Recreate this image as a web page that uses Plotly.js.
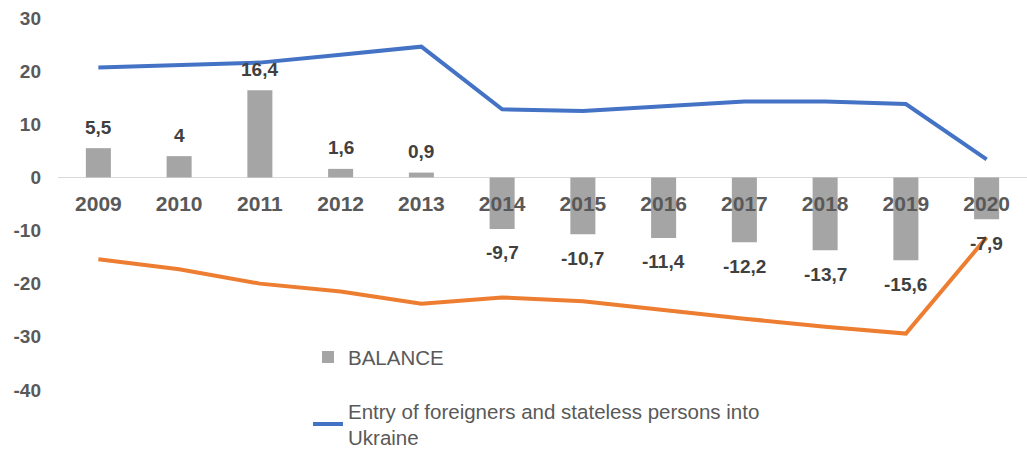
<!DOCTYPE html>
<html>
<head>
<meta charset="utf-8">
<script src="https://cdn.plot.ly/plotly-3.0.1.min.js"></script>
<style>html,body{margin:0;padding:0;background:#fff;}#chart{width:1027px;height:450px;}</style>
</head>
<body>
<div id="chart"></div>
<script>
const years = ["2009","2010","2011","2012","2013","2014","2015","2016","2017","2018","2019","2020"];
const balance = [5.5, 4, 16.4, 1.6, 0.9, -9.7, -10.7, -11.4, -12.2, -13.7, -15.6, -7.9];
const entry = [20.7, 21.1, 21.6, 23.1, 24.6, 12.8, 12.5, 13.4, 14.3, 14.3, 13.8, 3.4];
const exit = [-15.4, -17.3, -20.0, -21.5, -23.8, -22.6, -23.3, -25.0, -26.6, -28.1, -29.4, -11.3];
const yTicks = [-40, -30, -20, -10, 0, 10, 20, 30];

const traces = [
  {type:'bar', x: years, y: balance, name: 'BALANCE', marker:{color:'#a5a5a5'}, legendgroup:'a', hoverinfo:'none'},
  {type:'scatter', mode:'lines', x: years, y: entry, name: 'Entry of foreigners and stateless persons into<br>Ukraine',
   line:{color:'#4472c4', width:4}, legendgroup:'b', hoverinfo:'none'},
  {type:'scatter', mode:'lines', x: years, y: exit, name: 'Exit of foreigners and stateless persons from Ukraine',
   line:{color:'#ed7d31', width:4}, showlegend:false, hoverinfo:'none'}
];

const annotations = balance.map((v, i) => ({
  x: i, y: v, xref:'x', yref:'y',
  text: String(v).replace('.', ','),
  showarrow:false, yanchor:'middle',
  yshift: v >= 0 ? 21 : -24,
  font:{family:'Liberation Sans, Arial, sans-serif', size:19, color:'#404040', weight:'bold'}
}));

const yMin = -50, yMax = 30;

const layout = {
  width:1027, height:450,
  margin:{l:58, r:0, t:18, b:7, autoexpand:false},
  paper_bgcolor:'#ffffff', plot_bgcolor:'rgba(0,0,0,0)',
  bargap:0.69,
  showlegend:true,
  legend:{x:0.258, y:0.249, xanchor:'left', yanchor:'top', bgcolor:'rgba(0,0,0,0)',
    traceorder:'grouped', tracegroupgap:24,
    font:{family:'Liberation Sans, Arial, sans-serif', size:20.5, color:'#595959'}},
  xaxis:{type:'category', range:[-0.5, 11.5], anchor:'free', position:(0 - yMin) / (yMax - yMin),
    showline:false, showgrid:false, ticks:'', ticklabelstandoff:12, automargin:false,
    tickfont:{family:'Liberation Sans, Arial, sans-serif', size:21, color:'#595959', weight:'bold'}},
  yaxis:{range:[yMin, yMax], tickvals:yTicks, ticktext:yTicks.map(String), showgrid:false, showline:false,
    zeroline:true, zerolinecolor:'#d9d9d9', zerolinewidth:1.5, ticks:'', ticklabelstandoff:16, automargin:false,
    tickfont:{family:'Liberation Sans, Arial, sans-serif', size:19, color:'#595959', weight:'bold'}},
  annotations: annotations
};

Plotly.newPlot('chart', traces, layout, {staticPlot:true, displayModeBar:false});
</script>
</body>
</html>
